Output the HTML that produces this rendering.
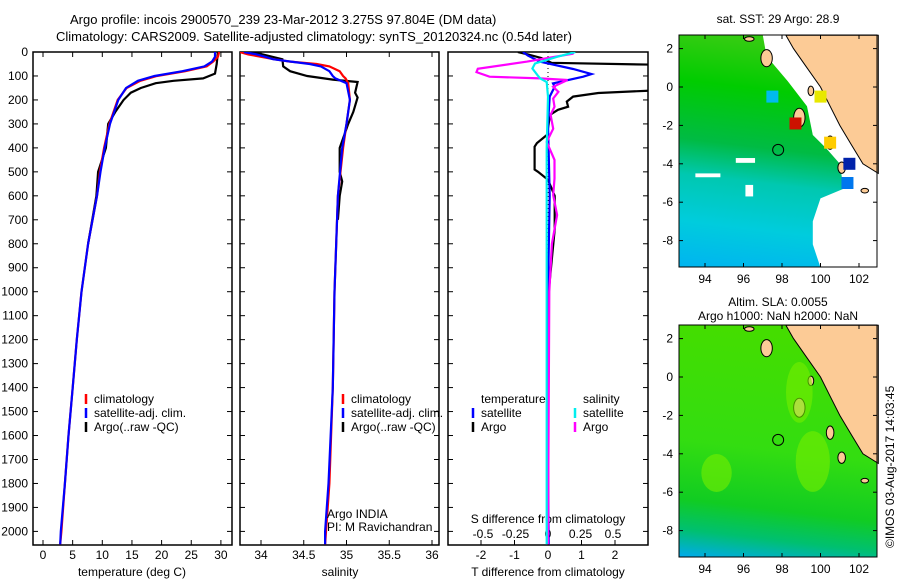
<!DOCTYPE html>
<html><head><meta charset="utf-8"><style>
html,body{margin:0;padding:0;background:#fff}
svg{display:block;font-family:"Liberation Sans",Arial,sans-serif}
text{font-size:12px;fill:#000}
</style></head><body>
<svg id="fig" width="900" height="580" viewBox="0 0 900 580" xmlns="http://www.w3.org/2000/svg">
<defs></defs>
<text x="70" y="24" style="font-size:13px">Argo profile: incois 2900570_239 23-Mar-2012 3.275S 97.804E (DM data)</text>
<text x="56" y="41" style="font-size:13px">Climatology: CARS2009. Satellite-adjusted climatology: synTS_20120324.nc (0.54d later)</text>
<g id="p1"></g>
<g id="p2"></g>
<g id="p3"></g>
<g id="m1"></g>
<g id="m2"></g>
<text transform="translate(894,548) rotate(-90)" style="font-size:12px">©IMOS 03-Aug-2017 14:03:45</text>
</svg>
<script>
const depthTicks=[0,100,200,300,400,500,600,700,800,900,1000,1100,1200,1300,1400,1500,1600,1700,1800,1900,2000];
const tempTicks=[0,5,10,15,20,25,30];
const salTicks=[34,34.5,35,35.5,36];
const tdTicks=[-2,-1,0,1,2];
const sdTicks=[-0.5,-0.25,0,0.25,0.5];
const sdTickLabels=["-0.5","-0.25","0","0.25","0.5"];

const climTD=[0,20,40,60,80,100,120,150,200,300,400,500,600,800,1000,1200,1400,1600,1800,2000,2054];
const climT=[29.7,29.5,28.7,27.6,24,19.2,16.4,14.1,12.6,11.2,10.3,9.6,9.1,7.6,6.5,5.7,5.0,4.3,3.7,3.1,2.9];
const satT=[29.0,29.0,28.5,27.2,23.5,18.8,16.0,14.0,12.7,11.3,10.4,9.7,9.1,7.6,6.5,5.7,5.0,4.3,3.7,3.0,2.9];
const argoTD=[0,50,90,110,120,130,150,170,200,250,300,400,500,600,800];
const argoT=[29.5,29.3,29.0,27,22,19,16.5,14.8,13.6,12.2,11,10.6,9.3,9.0,7.6];

const salD=[0,10,20,30,40,50,60,80,100,110,130,200,300,400,600,800,1000,1400,1800,2000,2054];
const climS=[33.75,33.85,34.0,34.15,34.34,34.65,34.8,34.92,34.96,34.99,35.02,35.04,35.0,34.96,34.9,34.88,34.86,34.84,34.8,34.76,34.75];
const satS=[33.8,33.95,34.05,34.14,34.35,34.57,34.7,34.8,34.84,34.87,35.0,35.04,35.0,34.95,34.9,34.88,34.86,34.84,34.79,34.75,34.75];
const argoSD=[0,10,30,60,80,100,115,125,170,190,250,300,400,500,540,600,700];
const argoS=[33.9,34.02,34.25,34.26,34.34,34.54,34.84,35.13,35.1,35.13,35.08,35.02,34.92,34.92,34.95,34.92,34.9];

const argoTdD=[0,10,25,45,54,60,155,171,186,207,228,241,262,346,380,395,490,500,533,600,740,1000,2054];
const argoTd=[-0.9,-0.6,-0.2,0.1,3.5,4,4,1.5,0.75,0.56,0.6,0.3,0.06,-0.03,-0.33,-0.4,-0.4,-0.3,0,0.2,0.2,0.02,0];
const satTdD=[0,15,40,71,92,103,131,145,186,300,600,1000,1500,2054];
const satTd=[-0.75,-0.6,-0.25,0.75,1.3,1.05,0.15,0.2,0.05,0.0,0.05,0.0,-0.02,0.02];
const argoSdD=[0,7,40,70,84,103,110,117,145,166,194,228,262,320,375,450,528,597,680,800,1000,2054];
const argoSd=[0.2,0.19,-0.16,-0.54,-0.55,-0.45,-0.06,0.15,0.04,0.08,0.04,0.05,0.02,0.04,-0.01,0.05,0.05,0.04,0.07,0.03,0.01,0];
const satSdD=[0,20,48,69,97,110,125,186,400,800,1200,1600,2054];
const satSd=[0.21,0.07,-0.1,-0.12,-0.08,-0.06,-0.01,0.0,-0.01,-0.01,-0.01,-0.01,-0.01];

const NS="http://www.w3.org/2000/svg";
function mk(parent,tag,attrs){const e=document.createElementNS(NS,tag);for(const k in attrs)e.setAttribute(k,attrs[k]);parent.appendChild(e);return e;}
const TOP=52,BOT=545;
const yD=d=>TOP+d*0.2397;
const defs=document.querySelector('#fig defs');
function frame(g,x0,x1){
  const r=mk(g,'rect',{x:x0,y:TOP,width:x1-x0,height:BOT-TOP,fill:'#fff',stroke:'#000','stroke-width':1.5});
  
  
}
function line(g,xs,ds,xf,color,name,clip){
  const pts=xs.map((v,i)=>xf(v).toFixed(1)+','+yD(ds[i]).toFixed(1)).join(' ');
  const p=mk(g,'polyline',{points:pts,fill:'none',stroke:color,'stroke-width':2.2,'clip-path':'url(#'+clip+')'});
  
  
}
function clipRect(id,x0,x1){const c=mk(defs,'clipPath',{id:id});mk(c,'rect',{x:x0,y:TOP,width:x1-x0,height:BOT-TOP});}
function xticks(g,vals,labels,xf,ylab,top){
  vals.forEach((v,i)=>{const x=xf(v);
    mk(g,'line',{x1:x,x2:x,y1:BOT,y2:BOT-5,stroke:'#000'});
    if(top) mk(g,'line',{x1:x,x2:x,y1:TOP,y2:TOP+5,stroke:'#000'});
    const t=mk(g,'text',{x:x,y:ylab,'text-anchor':'middle'});t.textContent=labels[i];
    
    
  });
}
function yticks(g,x0,x1,labels){
  depthTicks.forEach(d=>{const y=yD(d);
    mk(g,'line',{x1:x0,x2:x0+5,y1:y,y2:y,stroke:'#000'});
    mk(g,'line',{x1:x1,x2:x1-5,y1:y,y2:y,stroke:'#000'});
    if(labels){const t=mk(g,'text',{x:28,y:y+4,'text-anchor':'end'});t.textContent=d;
      
      }
  });
}
function txt(g,x,y,s,name,anchor){const t=mk(g,'text',{x:x,y:y});if(anchor)t.setAttribute('text-anchor',anchor);t.textContent=s;
  
  return t;}
function leg(g,x,y,color,label){
  const l=mk(g,'line',{x1:x,x2:x,y1:y-9,y2:y+1,stroke:color,'stroke-width':2.5});
  
  
  txt(g,x+8,y,label,'legend-label');
}

// Panel 1
const p1=document.getElementById('p1');const xT=v=>43+v*5.93;
clipRect('c1',33,232);frame(p1,33,232);yticks(p1,33,232,true);xticks(p1,tempTicks,tempTicks.map(String),xT,559,true);
line(p1,argoT,argoTD,xT,'#000','argo-temperature-line','c1');
line(p1,climT,climTD,xT,'#f00','climatology-temperature-line','c1');
line(p1,satT,climTD,xT,'#00f','satellite-temperature-line','c1');
txt(p1,132,576,'temperature (deg C)','x-axis-title','middle');
leg(p1,86,403,'#f00','climatology');leg(p1,86,417,'#00f','satellite-adj. clim.');leg(p1,86,431,'#000','Argo(..raw -QC)');

// Panel 2
const p2=document.getElementById('p2');const xS=v=>261+(v-34)*85.5;
clipRect('c2',240,439);frame(p2,240,439);yticks(p2,240,439,false);xticks(p2,salTicks,['34','34.5','35','35.5','36'],xS,559,true);
line(p2,argoS,argoSD,xS,'#000','argo-salinity-line','c2');
line(p2,climS,salD,xS,'#f00','climatology-salinity-line','c2');
line(p2,satS,salD,xS,'#00f','satellite-salinity-line','c2');
txt(p2,340,576,'salinity','x-axis-title','middle');
leg(p2,343,403,'#f00','climatology');leg(p2,343,417,'#00f','satellite-adj. clim.');leg(p2,343,431,'#000','Argo(..raw -QC)');
txt(p2,327,518,'Argo INDIA','pi-label');txt(p2,327,531,'PI: M Ravichandran','pi-label');

// Panel 3
const p3=document.getElementById('p3');const xTd=v=>548+v*33.5;const xSd=v=>548+v*130;
clipRect('c3',448,648);frame(p3,448,648);yticks(p3,448,648,false);
xticks(p3,tdTicks,tdTicks.map(String),xTd,559,false);
sdTicks.forEach((v,i)=>{txt(p3,xSd(v),538,sdTickLabels[i],'s-tick-label','middle');});
txt(p3,548,523,'S difference from climatology','s-axis-title','middle');
txt(p3,548,576,'T difference from climatology','x-axis-title','middle');
const z=mk(p3,'line',{x1:548,x2:548,y1:TOP,y2:BOT,stroke:'#000','stroke-dasharray':'1,3'});

line(p3,argoTd,argoTdD,xTd,'#000','argo-t-diff-line','c3');
line(p3,satTd,satTdD,xTd,'#00f','satellite-t-diff-line','c3');
line(p3,argoSd,argoSdD,xSd,'#f0f','argo-s-diff-line','c3');
line(p3,satSd,satSdD,xSd,'#0ee','satellite-s-diff-line','c3');
txt(p3,481,403,'temperature','legend-title');txt(p3,583,403,'salinity','legend-title');
leg(p3,473,417,'#00f','satellite');leg(p3,473,431,'#000','Argo');
leg(p3,575,417,'#0ee','satellite');leg(p3,575,431,'#f0f','Argo');

// Maps
const lonTicks=[94,96,98,100,102];const latTicks=[2,0,-2,-4,-6,-8];
function map(gid,y0,title1,title2,stops,white){
  const g=document.getElementById(gid);const X0=679,X1=877,Y1=y0+232;
  const lx=l=>705+(l-94)*19.25, ly=l=>y0+52-l*19.2;
  const P=arr=>arr.map(p=>lx(p[0]).toFixed(1)+','+ly(p[1]).toFixed(1)).join(' ');
  const id='grad'+gid;
  const lg=mk(defs,'linearGradient',{id:id,x1:0.1,y1:0,x2:0,y2:1});
  stops.forEach(s=>mk(lg,'stop',{offset:s[0],"stop-color":s[1]}));
  const bg=mk(g,'rect',{x:X0,y:y0,width:X1-X0,height:232,fill:'url(#'+id+')'});
  
  if(white){
    const w=mk(g,'polygon',{points:P([[97,2.7],[97.2,1.6],[98.3,0.3],[99.3,-1],[99.6,-2.5],[100.3,-3.2],[101,-4],[101.2,-5.3],[100,-5.8],[99.6,-7],[99.6,-8.2],[100.1,-9.7],[103,-9.7],[103,2.7]]),fill:'#fff'});
    
    [[95.6,-3.7,1,0.25],[93.5,-4.5,1.3,0.2],[96.1,-5.1,0.4,0.6]].forEach(s=>{const r=mk(g,'rect',{x:lx(s[0]),y:ly(s[1]),width:s[2]*19.25,height:s[3]*19.2,fill:'#fff'});
      });
  }
  const land=mk(g,'polygon',{points:P([[98.2,2.7],[98.6,2],[99.3,1],[100,0],[100.5,-1],[101,-2],[101.6,-3],[102.2,-4],[103,-4.5],[103,2.7]]),fill:'#fccb96',stroke:'#000','stroke-width':1});
  
  [[97.2,1.5,0.3,0.45],[98.9,-1.6,0.3,0.5],[99.5,-0.2,0.15,0.25],[100.5,-2.9,0.2,0.35],[102.3,-5.4,0.2,0.12],[96.3,2.5,0.25,0.12],[101.1,-4.2,0.2,0.3]].forEach(s=>{const e=mk(g,'ellipse',{cx:lx(s[0]),cy:ly(s[1]),rx:s[2]*19,ry:s[3]*19,fill:'#fccb96',stroke:'#000'});
    });
  const c=mk(g,'circle',{cx:lx(97.8),cy:ly(-3.275),r:5.5,fill:'none',stroke:'#000'});
  
  const f=mk(g,'rect',{x:X0,y:y0,width:X1-X0,height:232,fill:'none',stroke:'#000'});
  
  lonTicks.forEach(l=>{const x=lx(l);mk(g,'line',{x1:x,x2:x,y1:Y1,y2:Y1-4,stroke:'#000'});mk(g,'line',{x1:x,x2:x,y1:y0,y2:y0+4,stroke:'#000'});
    txt(g,x,Y1+16,String(l),'lon-tick-label','middle');});
  latTicks.forEach(l=>{const y=ly(l);mk(g,'line',{x1:X0,x2:X0+4,y1:y,y2:y,stroke:'#000'});mk(g,'line',{x1:X1,x2:X1-4,y1:y,y2:y,stroke:'#000'});
    txt(g,673,y+4,String(l),'lat-tick-label','end');});
  if(title2){txt(g,778,y0-19,title1,'map-title','middle');txt(g,778,y0-5,title2,'map-title','middle');}
  else txt(g,778,y0-12,title1,'map-title','middle');
  return {g,lx,ly};
}
const a=map('m1',35,'sat. SST: 29 Argo: 28.9',null,[['0','#33cc11'],['0.2','#00cc00'],['0.45','#00bb44'],['0.6','#00c8b0'],['0.8','#00ccdd'],['1','#00b4f0']],true);
[[100,-0.5,'#e8e800'],[100.5,-2.9,'#ffcc00'],[101.5,-4,'#0022aa'],[101.4,-5,'#0077ee'],[98.7,-1.9,'#cc1100'],[97.5,-0.5,'#00bbee']].forEach(s=>{const r=mk(a.g,'rect',{x:a.lx(s[0])-6,y:a.ly(s[1])-6,width:12,height:12,fill:s[2]});
  });
const b=map('m2',325,'Altim. SLA: 0.0055','Argo h1000: NaN h2000: NaN',[['0','#44dd00'],['0.5','#33dd11'],['0.75','#11cc22'],['0.88','#00c070'],['1','#00aaee']],false);
[[98.9,-0.8,0.7,1.6],[99.6,-4.4,0.9,1.6],[94.6,-5,0.8,1.0]].forEach(s=>{const e=mk(b.g,'ellipse',{cx:b.lx(s[0]),cy:b.ly(s[1]),rx:s[2]*19,ry:s[3]*19,fill:'#77ee00',opacity:0.6});
  });
</script>
</body></html>
